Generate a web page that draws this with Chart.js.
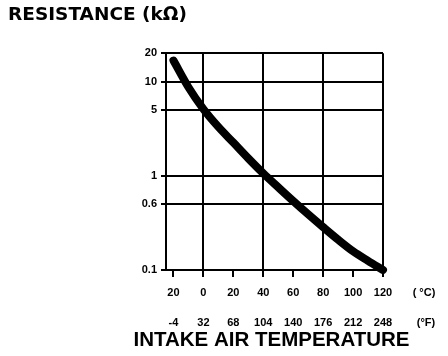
<!DOCTYPE html>
<html>
<head>
<meta charset="utf-8">
<script src="https://cdn.jsdelivr.net/npm/chart.js@4.4.1/dist/chart.umd.min.js"></script>
<style>
  html, body { margin: 0; padding: 0; background: #fff; }
  #wrap { width: 448px; height: 356px; position: relative; }
</style>
</head>
<body>
<div id="wrap"><canvas id="c" width="448" height="356"></canvas></div>
<script>
// ---- data ----
const tempC = [-20, -10, 0, 10, 20, 30, 40, 50, 60, 70, 80, 90, 100, 110, 120];
const resistance = [16.7, 8.7, 5.1, 3.3, 2.25, 1.53, 1.06, 0.755, 0.54, 0.39, 0.285, 0.21, 0.158, 0.125, 0.1];
const xTicksC = [-20, 0, 20, 40, 60, 80, 100, 120];
const xLabelsC = ['20', '0', '20', '40', '60', '80', '100', '120'];
const xLabelsF = ['-4', '32', '68', '104', '140', '176', '212', '248'];
const yTicks = [0.1, 0.5, 1, 5, 10, 20];
const yLabels = ['0.1', '0.6', '1', '5', '10', '20'];
const majorGridC = [0, 40, 80, 120];
const xTitle = 'INTAKE AIR TEMPERATURE';
const yTitle = 'RESISTANCE (k\u03A9)';

const FONT = "'Liberation Sans', Arial, Helvetica, sans-serif";
const WIDE = "'DejaVu Sans', Verdana, sans-serif";

const textPlugin = {
  id: 'extraText',
  afterDraw(chart) {
    const ctx = chart.ctx;
    const xs = chart.scales.x;
    const area = chart.chartArea;
    ctx.save();
    ctx.fillStyle = '#000';
    ctx.font = 'bold 11px ' + FONT;
    ctx.textAlign = 'center';
    ctx.textBaseline = 'middle';
    const px = xs.getPixelForValue(120) + 41;
    ctx.fillText('( \u00B0C)', px, 293);
    ctx.fillText('(\u00B0F)', px + 2, 323);
    // axis title (drawn without width compression)
    ctx.font = 'bold 20.5px ' + FONT;
    ctx.fillText(xTitle, (area.left + area.right) / 2 - 3, 340);
    ctx.restore();
  }
};

new Chart(document.getElementById('c'), {
  type: 'line',
  data: {
    datasets: [{
      data: tempC.map((t, i) => ({ x: t, y: resistance[i] })),
      borderColor: '#000',
      backgroundColor: '#000',
      borderWidth: 8,
      pointRadius: 0,
      cubicInterpolationMode: 'monotone',
      borderCapStyle: 'round',
      fill: false,
      clip: 6
    }]
  },
  options: {
    responsive: false,
    animation: false,
    devicePixelRatio: 1,
    layout: { padding: { left: 8, right: 65, top: 0, bottom: 0 } },
    plugins: {
      legend: { display: false },
      tooltip: { enabled: false },
      title: {
        display: true,
        text: yTitle,
        align: 'start',
        color: '#000',
        font: { family: WIDE, size: 18.5, weight: 'bold' },
        padding: { top: 4, bottom: 27 }
      }
    },
    scales: {
      x: {
        type: 'linear',
        position: 'bottom',
        weight: 0,
        min: -25,
        max: 120,
        afterBuildTicks: s => { s.ticks = xTicksC.map(v => ({ value: v })); },
        afterFit: s => { s.height = 30; },
        ticks: {
          autoSkip: false,
          maxRotation: 0,
          padding: 9,
          color: '#000',
          font: { family: FONT, size: 11, weight: 'bold' },
          callback: v => xLabelsC[xTicksC.indexOf(v)]
        },
        grid: {
          color: c => (c.tick && majorGridC.includes(c.tick.value)) ? '#000' : 'rgba(0,0,0,0)',
          lineWidth: 2,
          drawTicks: true,
          tickLength: 7,
          tickColor: '#000',
          tickWidth: 2
        },
        border: { display: true, color: '#000', width: 2 }
      },
      xF: {
        type: 'linear',
        position: 'bottom',
        weight: 1,
        min: -25,
        max: 120,
        afterBuildTicks: s => { s.ticks = xTicksC.map(v => ({ value: v })); },
        afterFit: s => { s.height = 56; },
        ticks: {
          autoSkip: false,
          maxRotation: 0,
          padding: 16,
          color: '#000',
          font: { family: FONT, size: 11, weight: 'bold' },
          callback: v => xLabelsF[xTicksC.indexOf(v)]
        },
        grid: { display: false, drawTicks: false },
        border: { display: false }
      },
      y: {
        type: 'logarithmic',
        position: 'left',
        min: 0.1,
        max: 20,
        afterBuildTicks: s => { s.ticks = yTicks.map(v => ({ value: v })); },
        afterFit: s => { s.width = 158; },
        ticks: {
          autoSkip: false,
          padding: 4,
          color: '#000',
          font: { family: FONT, size: 11, weight: 'bold' },
          callback: v => yLabels[yTicks.indexOf(v)]
        },
        grid: {
          color: '#000',
          lineWidth: 2,
          drawTicks: true,
          tickLength: 5,
          tickColor: '#000',
          tickWidth: 2
        },
        border: { display: true, color: '#000', width: 2 }
      }
    }
  },
  plugins: [textPlugin]
});
</script>
</body>
</html>
